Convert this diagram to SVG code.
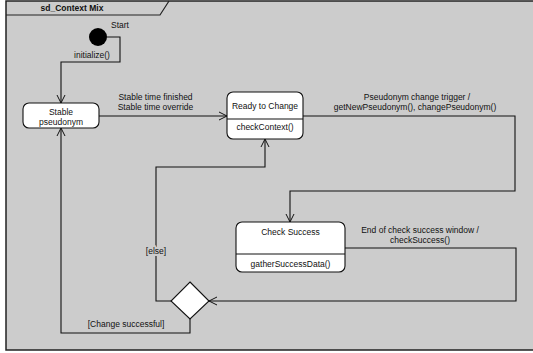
<svg xmlns="http://www.w3.org/2000/svg" width="533" height="353" viewBox="0 0 533 353">
<defs>
<style>
text{font-family:"Liberation Sans",Arial,sans-serif;font-size:8.5px;fill:#111;text-anchor:middle}
.title{font-weight:bold}
.node{fill:#fff;stroke:#111;stroke-width:1.1}
.div{stroke:#111;stroke-width:1}
.conn{fill:none;stroke:#111;stroke-width:1.1}
.halo{stroke:#cccccc;stroke-width:4;paint-order:stroke;stroke-linejoin:round}
</style>
<marker id="arr" markerWidth="10" markerHeight="10" refX="9" refY="5" orient="auto" markerUnits="userSpaceOnUse">
<path d="M1,1 L9,5 L1,9" fill="none" stroke="#111" stroke-width="1"/>
</marker>
</defs>
<rect x="0" y="0" width="533" height="353" fill="#ffffff"/>
<g id="frame">
<rect x="6" y="1" width="560" height="349" fill="#cccccc" stroke="#222" stroke-width="1.5"/>
<path d="M6,15 H160 L169,1" fill="none" stroke="#222" stroke-width="1.2"/>
<text class="title" x="72" y="11">sd_Context Mix</text>
</g>
<g id="connectors">
<path class="conn" d="M107,37 H120 V62 H61 V103" marker-end="url(#arr)"/>
<path class="conn" d="M99,116 H227" marker-end="url(#arr)"/>
<path class="conn" d="M303,116 H515 V191 H290 V222" marker-end="url(#arr)"/>
<path class="conn" d="M345,248 H516 V301 H209" marker-end="url(#arr)"/>
<path class="conn" d="M171,301 H156 V167 H265 V139" marker-end="url(#arr)"/>
<path class="conn" d="M190,319 V333 H61 V128" marker-end="url(#arr)"/>
<text x="92" y="58">initialize()</text>
<text x="155.5" y="100">Stable time finished</text>
<text x="155.5" y="110">Stable time override</text>
<text x="417" y="100">Pseudonym change trigger /</text>
<text x="415" y="110">getNewPseudonym(), changePseudonym()</text>
<text x="420" y="233">End of check success window /</text>
<text x="420" y="243">checkSuccess()</text>
<text class="halo" x="156" y="254">[else]</text>
<text x="126" y="327">[Change successful]</text>
</g>
<g id="start">
<circle cx="98" cy="37" r="9" fill="#000"/>
<text x="120" y="28">Start</text>
</g>
<g id="stable">
<rect class="node" x="23" y="103" width="76" height="25" rx="6"/>
<text x="61" y="115">Stable</text>
<text x="61" y="125">pseudonym</text>
</g>
<g id="ready">
<rect class="node" x="227" y="92" width="76" height="47" rx="6"/>
<line class="div" x1="227" y1="119" x2="303" y2="119"/>
<text x="265" y="109">Ready to Change</text>
<text x="265" y="130">checkContext()</text>
</g>
<g id="check">
<rect class="node" x="236" y="222" width="109" height="50" rx="6"/>
<line class="div" x1="236" y1="254" x2="345" y2="254"/>
<text x="290.5" y="235">Check Success</text>
<text x="290.5" y="267">gatherSuccessData()</text>
</g>
<g id="decision">
<path class="node" d="M190,282 L209,301 L190,319 L171,301 Z"/>
</g>
</svg>
